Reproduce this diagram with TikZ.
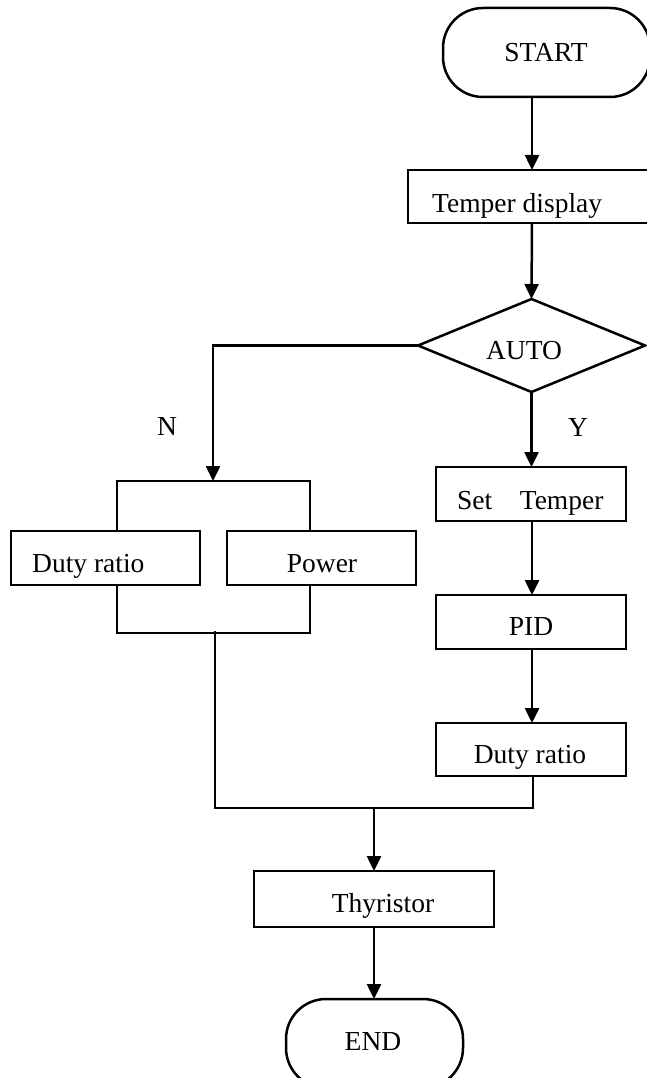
\documentclass[tikz,border=0pt]{standalone}
\usepackage{fontspec}
\setmainfont{Liberation Serif}
\usetikzlibrary{arrows.meta,shapes.geometric}
\tikzset{
  box/.style={draw, line width=2.5pt, rectangle, inner sep=0pt, outer sep=0pt},
  term/.style={box, rounded corners=40pt},
  cond/.style={draw, line width=2.5pt, diamond, inner sep=0pt, outer sep=0pt},
  lbl/.style={inner sep=0pt, font=\fontsize{27.5}{32}\selectfont},
  wire/.style={line width=2.5pt},
  arr/.style={wire, -{Triangle[length=15pt,width=14pt]}}
}
\begin{document}
\begin{tikzpicture}[x=1pt,y=-1pt]
\clip (0,0) rectangle (647,1078);
% shapes
\node[term, minimum width=207pt, minimum height=89pt] (start) at (546.5,52.5) {};
\node[box, minimum width=244pt, minimum height=53pt] (temp) at (530,196.5) {};
\node[cond, minimum width=227pt, minimum height=93pt] (auto) at (531.5,345.5) {};
\node[box, minimum width=190pt, minimum height=54pt] (st) at (531,494) {};
\node[box, minimum width=190pt, minimum height=54pt] (pid) at (531,622) {};
\node[box, minimum width=190pt, minimum height=53pt] (rd) at (531,749.5) {};
\node[box, minimum width=189pt, minimum height=54pt] (dl) at (105.5,558) {};
\node[box, minimum width=189pt, minimum height=54pt] (pw) at (321.5,558) {};
\node[box, minimum width=240pt, minimum height=56pt] (th) at (374,899) {};
\node[term, minimum width=177pt, minimum height=89pt] (end) at (374.5,1043.5) {};
% texts
\node[lbl, anchor=base] (tstart) at (546,62) {START};
\node[lbl, anchor=base west] (ttemp) at (432,212) {Temper display};
\node[lbl, anchor=base] (tauto) at (524,359) {AUTO};
\node[lbl, anchor=base] (ty) at (578,436) {Y};
\node[lbl, anchor=base] (tn) at (167,435) {N};
\node[lbl, anchor=base west] (tst) at (457,509) {Set\ \ \ \ Temper};
\node[lbl, anchor=base] (tpid) at (531,635) {PID};
\node[lbl, anchor=base] (trd) at (530,763) {Duty ratio};
\node[lbl, anchor=base west] (tdl) at (32,572) {Duty ratio};
\node[lbl, anchor=base] (tpw) at (322,572) {Power};
\node[lbl, anchor=base] (tth) at (383,912) {Thyristor};
\node[lbl, anchor=base] (tend) at (373,1050) {END};
% coordinates
\coordinate (cx) at (532,0);
\coordinate (nb) at (213,481);
\coordinate (bl) at (117,481);
\coordinate (br) at (310,481);
\coordinate (bl2) at (117,633);
\coordinate (br2) at (310,633);
\coordinate (mid) at (215,631);
\coordinate (ml) at (215,808);
\coordinate (mr) at (533,808);
\coordinate (mj) at (374,808);
% connectors
\draw[arr] (cx |- start.south) -- (cx |- temp.north);
\draw[arr] (cx |- temp.south) -- (auto.north);
\draw[arr] (auto.south) -- (auto.south |- st.north);
\draw[arr] (cx |- st.south) -- (cx |- pid.north);
\draw[arr] (cx |- pid.south) -- (cx |- rd.north);
\draw[arr] (auto.west) -| (nb);
\draw[wire] (bl |- dl.north) -- (bl) -- (br) -- (br |- pw.north);
\draw[wire] (bl |- dl.south) -- (bl2) -- (br2) -- (br |- pw.south);
\draw[wire] (mid) -- (ml) -- (mr) -- (mr |- rd.south);
\draw[arr] (mj) -- (mj |- th.north);
\draw[arr] (th.south) -- (th.south |- end.north);
\end{tikzpicture}
\end{document}
